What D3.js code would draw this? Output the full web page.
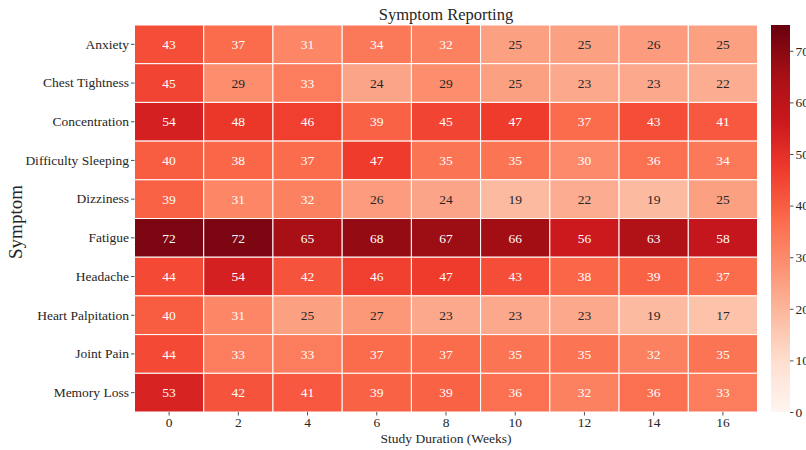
<!DOCTYPE html>
<html>
<head>
<meta charset="utf-8">
<script src="https://cdn.jsdelivr.net/npm/d3@7"></script>
<style>
  html, body { margin: 0; padding: 0; background: #fff; }
  svg { display: block; font-family: "Liberation Serif", "Times New Roman", serif; }
</style>
</head>
<body>
<svg id="chart" width="806" height="450"></svg>
<script>
// Weekly symptom counts, one row per symptom
const weeks = [0, 2, 4, 6, 8, 10, 12, 14, 16];
const symptoms = ["Anxiety", "Chest Tightness", "Concentration", "Difficulty Sleeping",
  "Dizziness", "Fatigue", "Headache", "Heart Palpitation", "Joint Pain", "Memory Loss"];
const anxiety            = [43, 37, 31, 34, 32, 25, 25, 26, 25];
const chestTightness     = [45, 29, 33, 24, 29, 25, 23, 23, 22];
const concentration      = [54, 48, 46, 39, 45, 47, 37, 43, 41];
const difficultySleeping = [40, 38, 37, 47, 35, 35, 30, 36, 34];
const dizziness          = [39, 31, 32, 26, 24, 19, 22, 19, 25];
const fatigue            = [72, 72, 65, 68, 67, 66, 56, 63, 58];
const headache           = [44, 54, 42, 46, 47, 43, 38, 39, 37];
const heartPalpitation   = [40, 31, 25, 27, 23, 23, 23, 19, 17];
const jointPain          = [44, 33, 33, 37, 37, 35, 35, 32, 35];
const memoryLoss         = [53, 42, 41, 39, 39, 36, 32, 36, 33];
const colorTicks = [0, 10, 20, 30, 40, 50, 60, 70];
const colorMax = 75;

const rows = [anxiety, chestTightness, concentration, difficultySleeping, dizziness,
  fatigue, headache, heartPalpitation, jointPain, memoryLoss];

const cells = [];
rows.forEach((row, i) => row.forEach((v, j) => cells.push({ symptom: symptoms[i], week: weeks[j], value: v })));

// Reds colour map, piecewise linear through the nine ColorBrewer stops
const redsStops = ["#fff5f0", "#fee0d2", "#fcbba1", "#fc9272", "#fb6a4a", "#ef3b2c", "#cb181d", "#a50f15", "#67000d"];
const reds = d3.scaleLinear()
  .domain(redsStops.map((_, i) => i / (redsStops.length - 1)))
  .range(redsStops)
  .interpolate(d3.interpolateRgb)
  .clamp(true);
const color = v => reds(v / colorMax);

function luminance(c) {
  const rgb = d3.rgb(c);
  const lin = x => { x /= 255; return x <= 0.03928 ? x / 12.92 : Math.pow((x + 0.055) / 1.055, 2.4); };
  return 0.2126 * lin(rgb.r) + 0.7152 * lin(rgb.g) + 0.0722 * lin(rgb.b);
}

const svg = d3.select("#chart");
const plotLeft = 134.5, plotRight = 757.5, plotTop = 25, plotBottom = 412;

const x = d3.scaleBand().domain(weeks).range([plotLeft, plotRight]);
const y = d3.scaleBand().domain(symptoms).range([plotTop, plotBottom]);

// Cells
svg.append("g").selectAll("rect").data(cells).join("rect")
  .attr("x", d => x(d.week))
  .attr("y", d => y(d.symptom))
  .attr("width", x.bandwidth())
  .attr("height", y.bandwidth())
  .attr("fill", d => color(d.value))
  .attr("stroke", "#fff")
  .attr("stroke-width", 1);

// Value labels
svg.append("g").selectAll("text").data(cells).join("text")
  .attr("x", d => x(d.week) + x.bandwidth() / 2)
  .attr("y", d => y(d.symptom) + y.bandwidth() / 2)
  .attr("dy", "0.35em")
  .attr("text-anchor", "middle")
  .attr("font-size", 13.5)
  .attr("fill", d => luminance(color(d.value)) > 0.408 ? "#262626" : "#ffffff")
  .text(d => d.value);

// Axes
const xAxis = svg.append("g")
  .attr("transform", `translate(0,${plotBottom})`)
  .call(d3.axisBottom(x).tickSize(3.5).tickPadding(2));
const yAxis = svg.append("g")
  .attr("transform", `translate(${plotLeft},0)`)
  .call(d3.axisLeft(y).tickSize(3.5).tickPadding(2));
[xAxis, yAxis].forEach(g => {
  g.select(".domain").remove();
  g.selectAll(".tick line").attr("stroke", "#262626").attr("stroke-width", 0.8);
  g.selectAll(".tick text").attr("fill", "#262626").attr("font-size", 13.5)
    .attr("font-family", "Liberation Serif, serif");
});

// Titles
svg.append("text")
  .attr("x", (plotLeft + plotRight) / 2).attr("y", 20)
  .attr("text-anchor", "middle").attr("font-size", 16.5).attr("fill", "#262626")
  .text("Symptom Reporting");
svg.append("text")
  .attr("x", (plotLeft + plotRight) / 2).attr("y", 443)
  .attr("text-anchor", "middle").attr("font-size", 13.5).attr("fill", "#262626")
  .text("Study Duration (Weeks)");
svg.append("text")
  .attr("transform", `translate(22,${(plotTop + plotBottom) / 2 + 3.5}) rotate(-90)`)
  .attr("text-anchor", "middle").attr("font-size", 19).attr("fill", "#262626")
  .text("Symptom");

// Colour bar
const cbX = 771, cbW = 19;
const cbScale = d3.scaleLinear().domain([0, colorMax]).range([plotBottom, plotTop]);
const defs = svg.append("defs");
const grad = defs.append("linearGradient").attr("id", "cbGrad")
  .attr("x1", 0).attr("y1", 1).attr("x2", 0).attr("y2", 0);
d3.range(0, 1.0001, 0.02).forEach(t => {
  grad.append("stop").attr("offset", t).attr("stop-color", reds(t));
});
svg.append("rect")
  .attr("x", cbX).attr("y", plotTop).attr("width", cbW).attr("height", plotBottom - plotTop)
  .attr("fill", "url(#cbGrad)");
const cbAxis = svg.append("g")
  .attr("transform", `translate(${cbX + cbW},0)`)
  .call(d3.axisRight(cbScale).tickValues(colorTicks).tickSize(3.5).tickPadding(2));
cbAxis.select(".domain").remove();
cbAxis.selectAll(".tick line").attr("stroke", "#262626").attr("stroke-width", 0.8);
cbAxis.selectAll(".tick text").attr("fill", "#262626").attr("font-size", 13.5)
  .attr("font-family", "Liberation Serif, serif");
</script>
</body>
</html>
